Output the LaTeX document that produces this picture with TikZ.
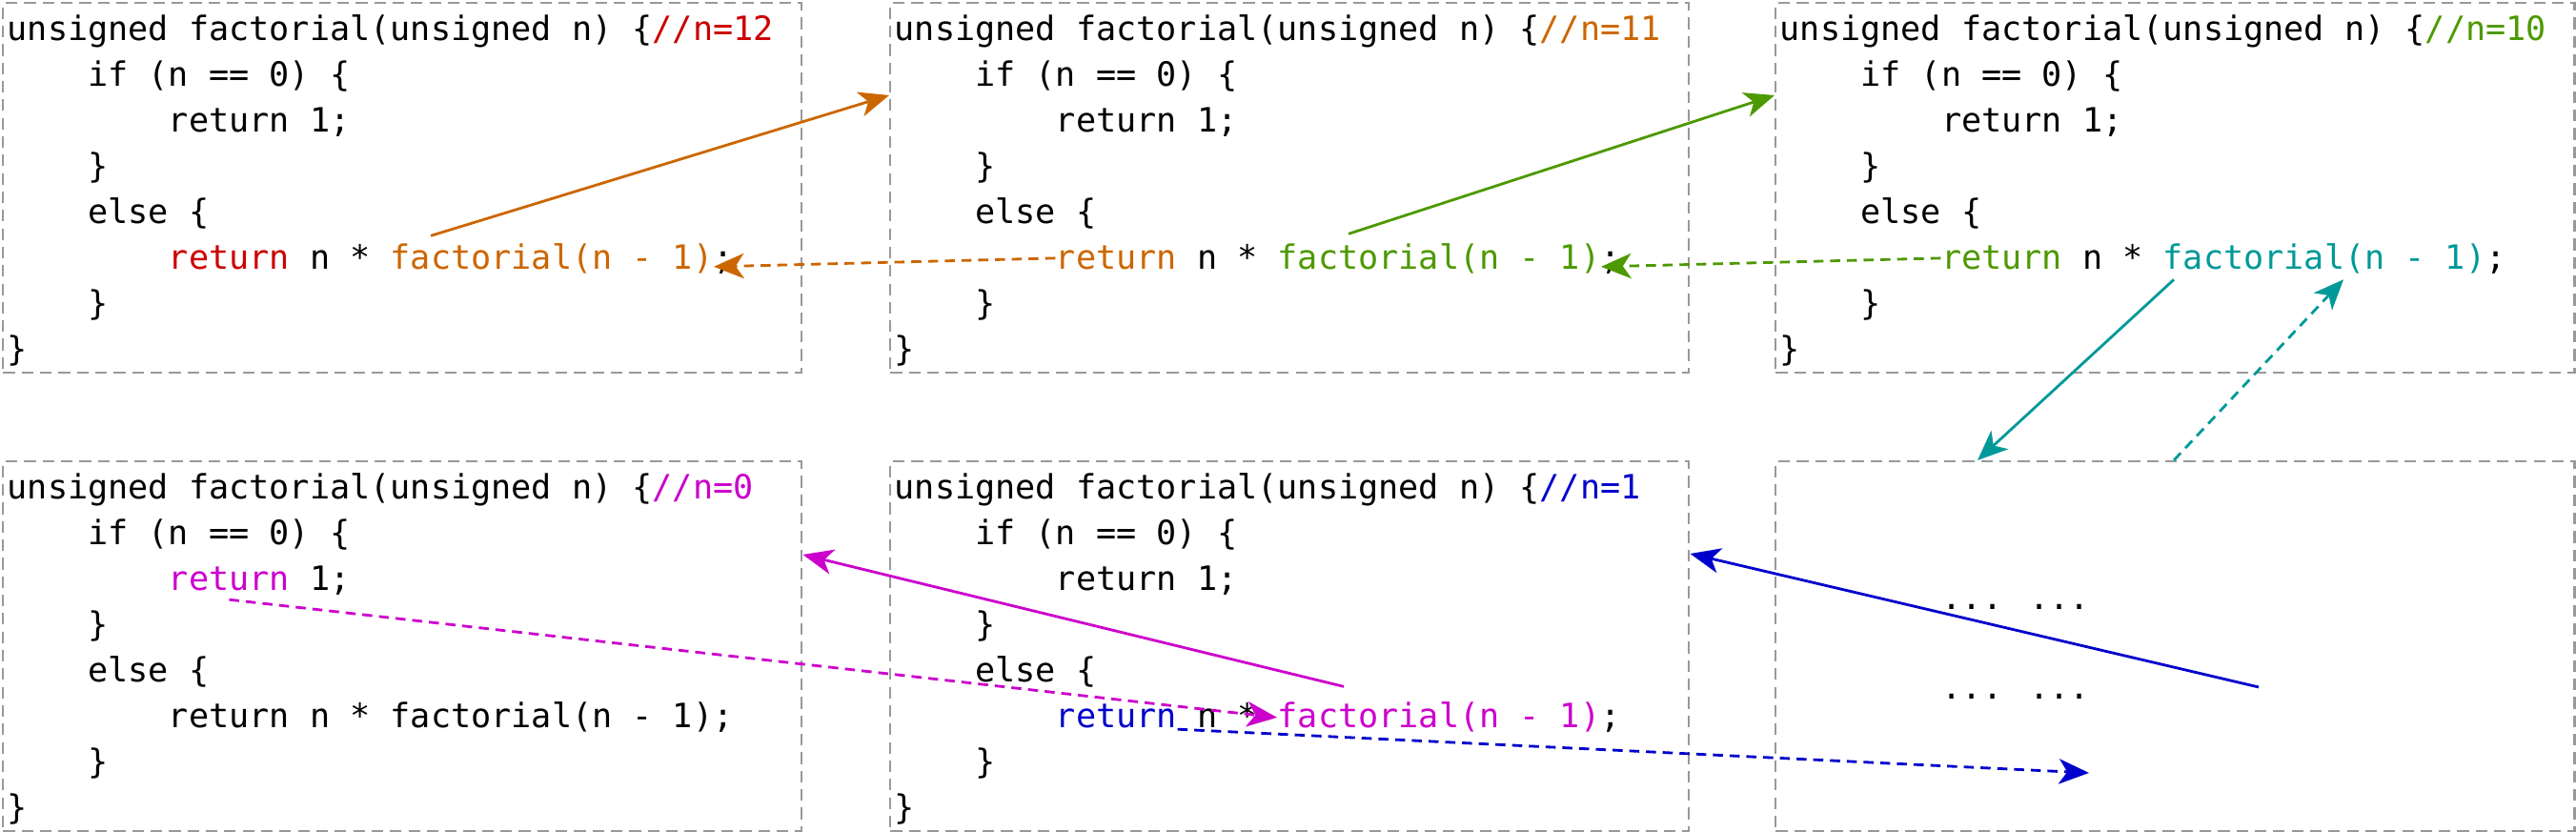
\documentclass[tikz,border=0pt]{standalone}
\usepackage{fontspec}
\usepackage{tikz}
\usetikzlibrary{arrows.meta}
\newfontfamily\codefont{DejaVu Sans Mono}
\definecolor{cred}{HTML}{CC0000}
\definecolor{corange}{HTML}{CC6600}
\definecolor{cgreen}{HTML}{4D9900}
\definecolor{cteal}{HTML}{009999}
\definecolor{cblue}{HTML}{0000CC}
\definecolor{cmag}{HTML}{CC00CC}
\definecolor{boxgray}{HTML}{999999}

\begin{document}
\begin{tikzpicture}[
    codebox/.style={draw=boxgray, dash pattern=on 3.5pt off 2pt, line width=0.7pt, minimum width=8.38cm, minimum height=3.88cm, inner sep=0pt, anchor=north west},
    code/.style={font=\codefont\fontsize{10}{12}\selectfont, anchor=base west, inner sep=0pt},
    call/.style={line width=0.8pt, -{Stealth[length=9pt,width=7.5pt,inset=2.5pt]}},
    back/.style={call, dash pattern=on 3pt off 2pt}
]
    \useasboundingbox (0,0) rectangle (27.03,8.73);
    \def\cw{0.2116}
    \foreach \nv/\bx/\by/\ccom/\cone/\cret/\cfac in {12/0.02/8.71/cred/black/cred/corange,
        11/9.33/8.71/corange/black/corange/cgreen, 10/18.62/8.71/cgreen/black/cgreen/cteal,
        0/0.02/3.90/cmag/cmag/black/black, 1/9.33/3.90/cblue/black/cblue/cmag} {
        \node[codebox] (b\nv) at (\bx,\by) {};
        \pgfmathsetmacro\xo{\bx+0.05}
        \node[code] (head\nv) at (\xo, \by-0.41) {unsigned factorial(unsigned n) \{\textcolor{\ccom}{//n=\nv}};
        \node[code] (if\nv) at (\xo+4*\cw, \by-0.41-0.48) {if (n == 0) \{};
        \node[code, text=\cone] (one\nv) at (\xo+8*\cw, \by-0.41-2*0.48) {return};
        \node[code] (onev\nv) at (\xo+15*\cw, \by-0.41-2*0.48) {1;};
        \node[code] (ifend\nv) at (\xo+4*\cw, \by-0.41-3*0.48) {\}};
        \node[code] (else\nv) at (\xo+4*\cw, \by-0.41-4*0.48) {else \{};
        \node[code, text=\cret] (ret\nv) at (\xo+8*\cw, \by-0.41-5*0.48) {return};
        \node[code] (mul\nv) at (\xo+15*\cw, \by-0.41-5*0.48) {n *};
        \node[code, text=\cfac] (fac\nv) at (\xo+19*\cw, \by-0.41-5*0.48) {factorial(n - 1)};
        \node[code] (semi\nv) at (\xo+35*\cw, \by-0.41-5*0.48) {;};
        \node[code] (elseend\nv) at (\xo+4*\cw, \by-0.41-6*0.48) {\}};
        \node[code] (end\nv) at (\xo, \by-0.41-7*0.48) {\}};
    }
    \node[codebox] (bdots) at (18.62,3.90) {};
    \node[code] (dotsa) at (20.37,2.33) {... ...};
    \node[code] (dotsb) at (20.37,1.39) {... ...};

    \draw[call, corange] ([shift={(0.43,0.08)}]fac12.north west) -- ([yshift=-0.98cm]b11.north west);
    \draw[back, corange] (ret11.west) -- ([yshift=-0.08cm]fac12.east);
    \draw[call, cgreen] ([shift={(0.75,0.10)}]fac11.north west) -- ([yshift=-0.98cm]b10.north west);
    \draw[back, cgreen] (ret10.west) -- ([yshift=-0.08cm]fac11.east);
    \draw[call, cteal] ([shift={(0.12,-0.05)}]fac10.south west) -- ([xshift=2.13cm]bdots.north west);
    \draw[back, cteal] ([xshift=4.19cm]bdots.north west) -- ([shift={(1.90,-0.05)}]fac10.south west);
    \draw[call, cblue] ([shift={(5.08,-2.38)}]bdots.north west) -- ([yshift=-0.98cm]b1.north east);
    \draw[back, cblue] (ret1.south east) -- ([shift={(3.30,-3.28)}]bdots.north west);
    \draw[call, cmag] ([shift={(0.70,0.16)}]fac1.north west) -- ([yshift=-0.99cm]b0.north east);
    \draw[back, cmag] ([yshift=-0.08cm]one0.south) -- (fac1.west);
\end{tikzpicture}
\end{document}
